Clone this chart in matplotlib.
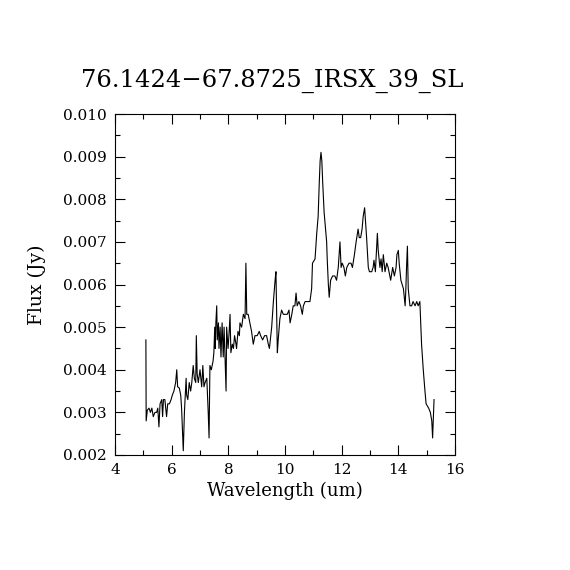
import matplotlib
matplotlib.use("Agg")
import matplotlib.pyplot as plt
from matplotlib.ticker import MultipleLocator, FormatStrFormatter

title = "76.1424\u221267.8725_IRSX_39_SL"
xlabel = "Wavelength (um)"
ylabel = "Flux (Jy)"

wavelength = [
    5.09, 5.10, 5.14, 5.20, 5.25, 5.30, 5.35, 5.41, 5.47, 5.51,
    5.55, 5.59, 5.65, 5.68, 5.71, 5.76, 5.82, 5.86, 5.92, 5.98,
    6.02, 6.08, 6.14, 6.18, 6.21, 6.27, 6.32, 6.35, 6.39, 6.41,
    6.45, 6.51, 6.53, 6.57, 6.62, 6.67, 6.71, 6.76, 6.80, 6.85,
    6.87, 6.90, 6.94, 7.00, 7.06, 7.10, 7.14, 7.18, 7.24, 7.29,
    7.32, 7.35, 7.40, 7.46, 7.49, 7.52, 7.54, 7.56, 7.59, 7.61,
    7.65, 7.67, 7.71, 7.74, 7.78, 7.82, 7.85, 7.89, 7.92, 7.94,
    7.99, 8.03, 8.06, 8.09, 8.14, 8.18, 8.22, 8.27, 8.29, 8.34,
    8.39, 8.41, 8.47, 8.53, 8.59, 8.62, 8.65, 8.70, 8.76, 8.82,
    8.88, 8.94, 9.02, 9.09, 9.14, 9.21, 9.28, 9.35, 9.41, 9.45,
    9.50, 9.53, 9.59, 9.65, 9.68, 9.71, 9.73, 9.76, 9.82, 9.88,
    9.94, 10.00, 10.08, 10.14, 10.18, 10.24, 10.29, 10.35, 10.39, 10.43,
    10.49, 10.55, 10.61, 10.65, 10.71, 10.82, 10.88, 10.94, 10.97, 11.06,
    11.12, 11.17, 11.21, 11.24, 11.27, 11.30, 11.33, 11.38, 11.42, 11.47,
    11.49, 11.53, 11.56, 11.61, 11.68, 11.76, 11.82, 11.88, 11.92, 11.94,
    11.98, 12.02, 12.08, 12.13, 12.18, 12.26, 12.33, 12.38, 12.45, 12.51,
    12.58, 12.62, 12.67, 12.72, 12.76, 12.81, 12.83, 12.88, 12.94, 12.98,
    13.06, 13.11, 13.14, 13.19, 13.26, 13.29, 13.35, 13.39, 13.43, 13.47,
    13.53, 13.59, 13.64, 13.73, 13.80, 13.86, 13.92, 13.95, 14.00, 14.03,
    14.09, 14.18, 14.24, 14.26, 14.29, 14.32, 14.35, 14.41, 14.47, 14.52,
    14.59, 14.65, 14.70, 14.76, 14.82, 14.88, 14.94, 14.98, 15.07, 15.13,
    15.18, 15.21, 15.26,
]

flux = [
    0.0047, 0.0028, 0.00305, 0.0031, 0.0030, 0.0031, 0.0029, 0.0030, 0.0030, 0.0031,
    0.00266, 0.0032, 0.0033, 0.0029, 0.0033, 0.0033, 0.0029, 0.0032, 0.0032, 0.0033,
    0.0034, 0.0035, 0.0037, 0.0040, 0.0036, 0.00357, 0.0034, 0.0031, 0.0024, 0.0021,
    0.0030, 0.0038, 0.0034, 0.0033, 0.0037, 0.0035, 0.0037, 0.0041, 0.0038, 0.0037,
    0.0048, 0.0039, 0.0037, 0.0040, 0.0036, 0.0041, 0.0036, 0.0037, 0.0038, 0.0030,
    0.0024, 0.0041, 0.0040, 0.0042, 0.0044, 0.0050, 0.0045, 0.0051, 0.0055, 0.0047,
    0.0051, 0.0045, 0.0050, 0.0043, 0.0051, 0.0043, 0.0050, 0.0041, 0.0035, 0.0050,
    0.0045, 0.0049, 0.0053, 0.0044, 0.0046, 0.0045, 0.0048, 0.0046, 0.0045, 0.0049,
    0.0048, 0.0051, 0.0050, 0.0053, 0.0052, 0.0065, 0.0053, 0.0053, 0.0051, 0.0049,
    0.0046, 0.0048, 0.0048, 0.0049, 0.0048, 0.0047, 0.0048, 0.0048, 0.0046, 0.0045,
    0.0048, 0.0050, 0.0056, 0.0061, 0.0063, 0.0052, 0.0044, 0.0047, 0.0052, 0.0054,
    0.0053, 0.0053, 0.0053, 0.0054, 0.0051, 0.0053, 0.0055, 0.0055, 0.0058, 0.0055,
    0.0056, 0.0055, 0.0053, 0.0055, 0.0056, 0.0056, 0.0056, 0.0059, 0.0065, 0.0066,
    0.0072, 0.0076, 0.0084, 0.0089, 0.0091, 0.0089, 0.0084, 0.0077, 0.0074, 0.0070,
    0.0066, 0.0060, 0.0057, 0.0061, 0.0062, 0.0062, 0.0061, 0.0064, 0.0068, 0.0070,
    0.0064, 0.0065, 0.0064, 0.0062, 0.0064, 0.0065, 0.0065, 0.0064, 0.0067, 0.0070,
    0.0073, 0.0071, 0.0071, 0.0073, 0.0076, 0.0078, 0.0076, 0.0071, 0.0064, 0.0063,
    0.0063, 0.0064, 0.00657, 0.0063, 0.0072, 0.0068, 0.0064, 0.0066, 0.0063, 0.0067,
    0.0063, 0.0065, 0.0064, 0.0061, 0.0064, 0.0062, 0.0064, 0.0067, 0.0068, 0.0065,
    0.0061, 0.0059, 0.0055, 0.0058, 0.0064, 0.0069, 0.0059, 0.0055, 0.0055, 0.0056,
    0.0055, 0.0056, 0.0055, 0.0056, 0.0046, 0.0040, 0.0035, 0.0032, 0.0031, 0.0030,
    0.0028, 0.0024, 0.0033,
]

xlim = (4, 16)
ylim = (0.002, 0.010)

plt.rcParams["font.family"] = ["DejaVu Serif"]

fig = plt.figure(figsize=(5.7, 5.7), dpi=100)
ax = fig.add_axes([115 / 570, 115 / 570, 340 / 570, 341 / 570])
ax.plot(wavelength, flux, color="black", linewidth=0.8)
ax.set_xlim(*xlim)
ax.set_ylim(*ylim)

ax.xaxis.set_major_locator(MultipleLocator(2))
ax.xaxis.set_minor_locator(MultipleLocator(1))
ax.yaxis.set_major_locator(MultipleLocator(0.001))
ax.yaxis.set_minor_locator(MultipleLocator(0.0005))
ax.yaxis.set_major_formatter(FormatStrFormatter("%.3f"))
ax.tick_params(which="both", direction="in", top=True, right=True,
               width=0.8, labelsize=11, colors="black")
ax.tick_params(which="major", length=7, pad=6)
ax.tick_params(which="minor", length=3.5)
for s in ax.spines.values():
    s.set_linewidth(0.8)

ax.set_xlabel(xlabel, fontsize=13, labelpad=3)
ax.set_ylabel(ylabel, fontsize=13.5, labelpad=12)
fig.text(272 / 570, 1 - 81 / 570, title, fontsize=17.5, ha="center", va="center")

fig.savefig("out.png", dpi=100)
